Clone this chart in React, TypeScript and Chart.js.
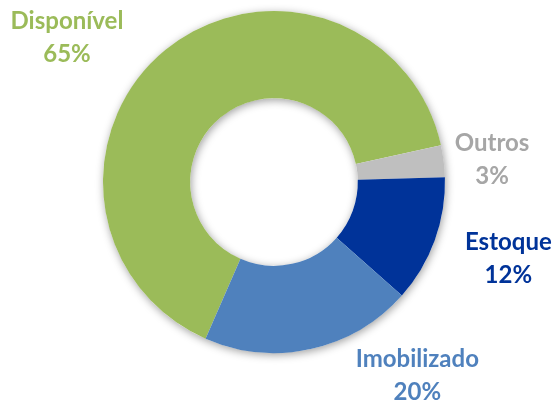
import React, { useEffect, useRef } from "react";
import { Chart, registerables } from "chart.js";

Chart.register(...registerables);

const categories = ["Disponível", "Outros", "Estoque", "Imobilizado"];
const values = [65, 3, 12, 20];
const sliceColors = ["#9BBB59", "#BFBFBF", "#003399", "#4F81BD"];
const labelColors = ["#9BBB59", "#A6A6A6", "#003399", "#4F81BD"];

// label layout: distance factor (x outer radius) and angular shift (deg) from slice mid-angle
const labelLayout = [
  { dist: 1.478, shift: -15.6 },
  { dist: 1.282, shift: 1.0 },
  { dist: 1.441, shift: -2.0 },
  { dist: 1.406, shift: -24.2 },
];

const shadowPlugin = {
  id: "ringShadow",
  beforeDatasetsDraw(chart: any) {
    const arc = chart.getDatasetMeta(0).data[0];
    if (!arc) return;
    const { x, y, outerRadius, innerRadius } = arc.getProps(["x", "y", "outerRadius", "innerRadius"], true);
    const ctx = chart.ctx;
    ctx.save();
    ctx.shadowColor = "rgba(0,0,0,0.38)";
    ctx.shadowBlur = 9;
    ctx.shadowOffsetX = 1;
    ctx.shadowOffsetY = 2;
    ctx.beginPath();
    ctx.arc(x, y, outerRadius, 0, Math.PI * 2);
    ctx.moveTo(x + innerRadius, y);
    ctx.arc(x, y, innerRadius, 0, Math.PI * 2, true);
    ctx.closePath();
    ctx.fillStyle = "#ffffff";
    ctx.fill("evenodd");
    ctx.restore();
  },
};

const labelPlugin = {
  id: "sliceLabels",
  afterDatasetsDraw(chart: any) {
    const meta = chart.getDatasetMeta(0);
    const ctx = chart.ctx;
    ctx.save();
    ctx.font = "bold 24px Lato, 'Open Sans', sans-serif";
    ctx.textAlign = "center";
    ctx.textBaseline = "middle";
    meta.data.forEach((arc: any, i: number) => {
      const { x, y, startAngle, endAngle, outerRadius } = arc.getProps(
        ["x", "y", "startAngle", "endAngle", "outerRadius"],
        true
      );
      const lay = labelLayout[i];
      const mid = (startAngle + endAngle) / 2 + (lay.shift * Math.PI) / 180;
      const r = outerRadius * lay.dist;
      const lx = x + Math.cos(mid) * r;
      const ly = y + Math.sin(mid) * r;
      ctx.fillStyle = labelColors[i];
      ctx.fillText(categories[i], lx, ly - 16);
      ctx.fillText(values[i] + "%", lx, ly + 17);
    });
    ctx.restore();
  },
};

export default function App() {
  const ref = useRef<HTMLCanvasElement>(null);
  useEffect(() => {
    if (!ref.current) return;
    const chart = new Chart(ref.current, {
      type: "doughnut",
      data: {
        labels: categories,
        datasets: [
          {
            data: values,
            backgroundColor: sliceColors,
            borderWidth: 0,
            hoverOffset: 0,
          },
        ],
      },
      options: {
        responsive: false,
        animation: false,
        cutout: "49%",
        rotation: 203.6,
        layout: { padding: { top: 11, bottom: 50, left: 100, right: 108 } },
        plugins: {
          legend: { display: false },
          tooltip: { enabled: false },
        },
      },
      plugins: [shadowPlugin, labelPlugin],
    });
    return () => chart.destroy();
  }, []);
  return (
    <div style={{ position: "fixed", left: 0, top: 0, width: 556, height: 403, background: "#fff" }}>
      <canvas ref={ref} width={556} height={403} />
    </div>
  );
}
